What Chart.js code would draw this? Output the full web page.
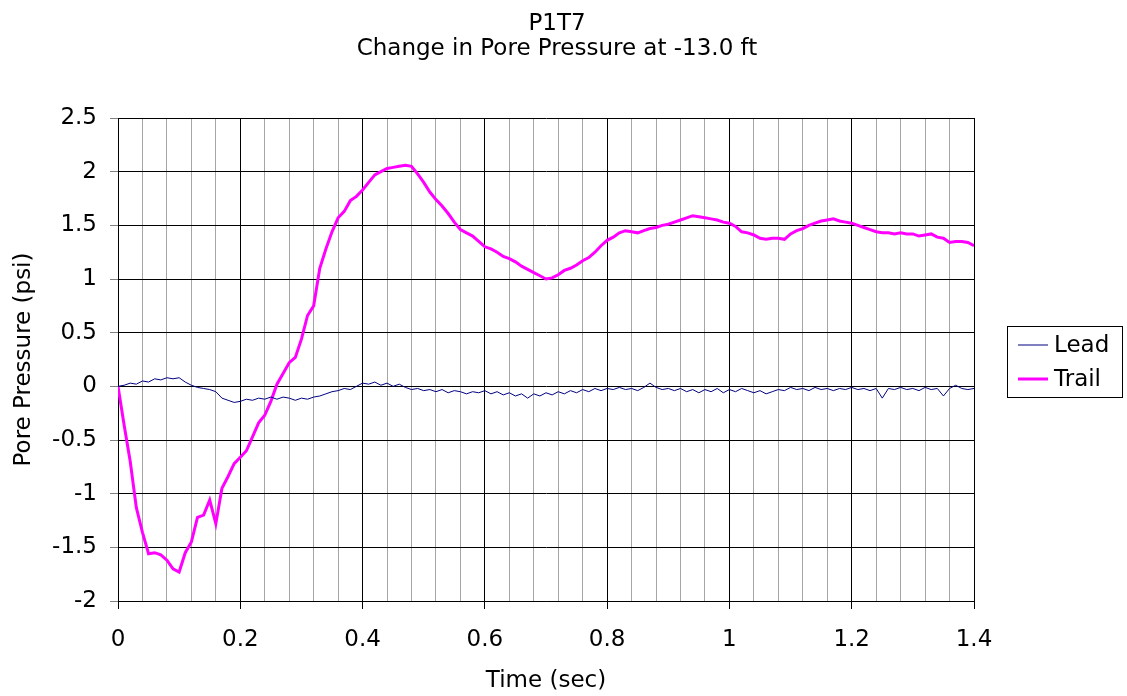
<!DOCTYPE html>
<html>
<head>
<meta charset="utf-8">
<title>P1T7 Pore Pressure</title>
<script src="https://cdn.jsdelivr.net/npm/chart.js@4"></script>
<style>
  html, body { margin: 0; padding: 0; background: #fff; }
  #wrap { width: 1127px; height: 696px; position: relative; }
</style>
</head>
<body>
<div id="wrap"><canvas id="chart"></canvas></div>
<script>
const titleLines = ['P1T7', 'Change in Pore Pressure at -13.0 ft'];
const seriesNames = ['Lead', 'Trail'];

const leadValues = [
  0, 0.01, 0.03, 0.02, 0.05, 0.04, 0.07, 0.06, 0.08, 0.07,
  0.08, 0.04, 0.01, -0.01, -0.02, -0.03, -0.05, -0.11, -0.13, -0.15,
  -0.14, -0.12, -0.13, -0.11, -0.12, -0.10, -0.12, -0.10, -0.11, -0.13,
  -0.11, -0.12, -0.10, -0.09, -0.07, -0.05, -0.04, -0.02, -0.03, 0.00,
  0.03, 0.02, 0.04, 0.01, 0.03, 0.00, 0.02, -0.01, -0.03, -0.02,
  -0.04, -0.03, -0.05, -0.03, -0.06, -0.04, -0.05, -0.07, -0.05, -0.06,
  -0.04, -0.07, -0.05, -0.08, -0.06, -0.09, -0.07, -0.11, -0.07, -0.09,
  -0.06, -0.08, -0.05, -0.07, -0.04, -0.06, -0.03, -0.05, -0.02, -0.04,
  -0.02, -0.03, -0.01, -0.03, -0.02, -0.04, -0.01, 0.03, -0.01, -0.03,
  -0.02, -0.04, -0.02, -0.05, -0.03, -0.06, -0.03, -0.05, -0.02, -0.06,
  -0.03, -0.05, -0.02, -0.04, -0.06, -0.04, -0.07, -0.05, -0.03, -0.04,
  -0.01, -0.03, -0.02, -0.04, -0.01, -0.03, -0.02, -0.04, -0.02, -0.03,
  -0.01, -0.03, -0.02, -0.04, -0.02, -0.11, -0.02, -0.03, -0.01, -0.03,
  -0.02, -0.04, -0.01, -0.03, -0.02, -0.09, -0.02, 0.01, -0.02, -0.03,
  -0.02
];

const trailValues = [
  0, -0.36, -0.70, -1.13, -1.36, -1.56, -1.55, -1.57, -1.62, -1.70,
  -1.73, -1.55, -1.45, -1.22, -1.20, -1.06, -1.28, -0.95, -0.84, -0.72,
  -0.66, -0.60, -0.47, -0.34, -0.27, -0.14, 0.02, 0.12, 0.22, 0.27,
  0.44, 0.66, 0.75, 1.10, 1.28, 1.44, 1.57, 1.63, 1.73, 1.77,
  1.83, 1.90, 1.97, 2.00, 2.03, 2.04, 2.05, 2.06, 2.05, 1.98,
  1.90, 1.81, 1.74, 1.68, 1.61, 1.53, 1.46, 1.43, 1.40, 1.35,
  1.30, 1.28, 1.25, 1.21, 1.19, 1.16, 1.12, 1.09, 1.06, 1.03,
  1.00, 1.01, 1.04, 1.08, 1.10, 1.13, 1.17, 1.20, 1.25, 1.31,
  1.36, 1.39, 1.43, 1.45, 1.44, 1.43, 1.45, 1.47, 1.48, 1.50,
  1.51, 1.53, 1.55, 1.57, 1.59, 1.58, 1.57, 1.56, 1.55, 1.53,
  1.52, 1.49, 1.44, 1.43, 1.41, 1.38, 1.37, 1.38, 1.38, 1.37,
  1.42, 1.45, 1.47, 1.50, 1.52, 1.54, 1.55, 1.56, 1.54, 1.53,
  1.52, 1.50, 1.48, 1.46, 1.44, 1.43, 1.43, 1.42, 1.43, 1.42,
  1.42, 1.40, 1.41, 1.42, 1.39, 1.38, 1.34, 1.35, 1.35, 1.34,
  1.31
];

const sampleStep = 0.01;   // seconds between samples
const xMin = 0, xMax = 1.4, xMajor = 0.2, xMinor = 0.04;
const yMin = -2, yMax = 2.5, yStep = 0.5;

// ------------------------------------------------------------
const FONT = "'DejaVu Sans', 'Liberation Sans', Arial, sans-serif";
const FSIZE = 23;

function toPoints(values) {
  return values.map((v, i) => ({ x: +(i * sampleStep).toFixed(2), y: v }));
}

function isMajor(v) {
  return Math.round(v * 100) % Math.round(xMajor * 100) === 0;
}

// title + boxed legend drawn on the canvas, Excel style
const decorPlugin = {
  id: 'decor',
  afterDraw(chart) {
    const ctx = chart.ctx;
    const area = chart.chartArea;
    ctx.save();
    ctx.fillStyle = '#000';
    ctx.font = FSIZE + 'px ' + FONT;
    ctx.textAlign = 'center';
    ctx.textBaseline = 'middle';
    ctx.fillText(titleLines[0], 557, 24);
    ctx.fillText(titleLines[1], 557, 49);

    // legend
    const bx = area.right + 33, bw = 115, bh = 71;
    const by = Math.round((area.top + area.bottom) / 2) - 34;
    ctx.strokeStyle = '#000';
    ctx.lineWidth = 1;
    ctx.strokeRect(bx + 0.5, by + 0.5, bw, bh);
    ctx.textAlign = 'left';
    chart.data.datasets.forEach((ds, i) => {
      const cy = by + 19 + i * 34;
      ctx.strokeStyle = ds.borderColor;
      ctx.lineWidth = ds.borderWidth;
      ctx.beginPath();
      ctx.moveTo(bx + 11, cy);
      ctx.lineTo(bx + 41, cy);
      ctx.stroke();
      ctx.fillStyle = '#000';
      ctx.fillText(ds.label, bx + 47, cy + 1);
    });
    ctx.restore();
  }
};

new Chart(document.getElementById('chart'), {
  type: 'line',
  data: {
    datasets: [
      {
        label: seriesNames[0],
        data: toPoints(leadValues),
        borderColor: '#000080',
        borderWidth: 1,
        pointRadius: 0,
        tension: 0
      },
      {
        label: seriesNames[1],
        data: toPoints(trailValues),
        borderColor: '#ff00ff',
        borderWidth: 3,
        pointRadius: 0,
        tension: 0
      }
    ]
  },
  options: {
    responsive: true,
    maintainAspectRatio: false,
    animation: false,
    layout: { padding: { top: 118, right: 153, left: 0, bottom: 0 } },
    plugins: {
      legend: { display: false },
      title: { display: false },
      tooltip: { enabled: false }
    },
    scales: {
      x: {
        type: 'linear',
        min: xMin,
        max: xMax,
        afterFit(scale) { scale.height = 95; },
        ticks: {
          stepSize: xMinor,
          autoSkip: false,
          maxRotation: 0,
          padding: 17,
          color: '#000',
          font: { family: FONT, size: FSIZE },
          callback: v => isMajor(v) ? String(Math.round(v * 10) / 10) : ''
        },
        grid: {
          color: c => isMajor(c.tick.value) ? '#000' : '#a6a6a6',
          tickColor: c => isMajor(c.tick.value) ? '#000' : 'rgba(0,0,0,0)',
          tickLength: 8,
          lineWidth: 1
        },
        border: { color: '#000', width: 1 },
        title: {
          display: true,
          text: 'Time (sec)',
          color: '#000',
          font: { family: FONT, size: FSIZE },
          padding: { top: 0, bottom: 1 }
        }
      },
      y: {
        min: yMin,
        max: yMax,
        afterFit(scale) { scale.width = 118; },
        ticks: {
          stepSize: yStep,
          padding: 13,
          color: '#000',
          font: { family: FONT, size: FSIZE },
          callback: v => String(v)
        },
        grid: {
          color: '#000',
          tickColor: '#808080',
          tickLength: 8,
          lineWidth: 1
        },
        border: { color: '#000', width: 1 },
        title: {
          display: true,
          text: 'Pore Pressure (psi)',
          color: '#000',
          font: { family: FONT, size: FSIZE },
          padding: { top: 10, bottom: 0 }
        }
      }
    }
  },
  plugins: [decorPlugin]
});
</script>
</body>
</html>
